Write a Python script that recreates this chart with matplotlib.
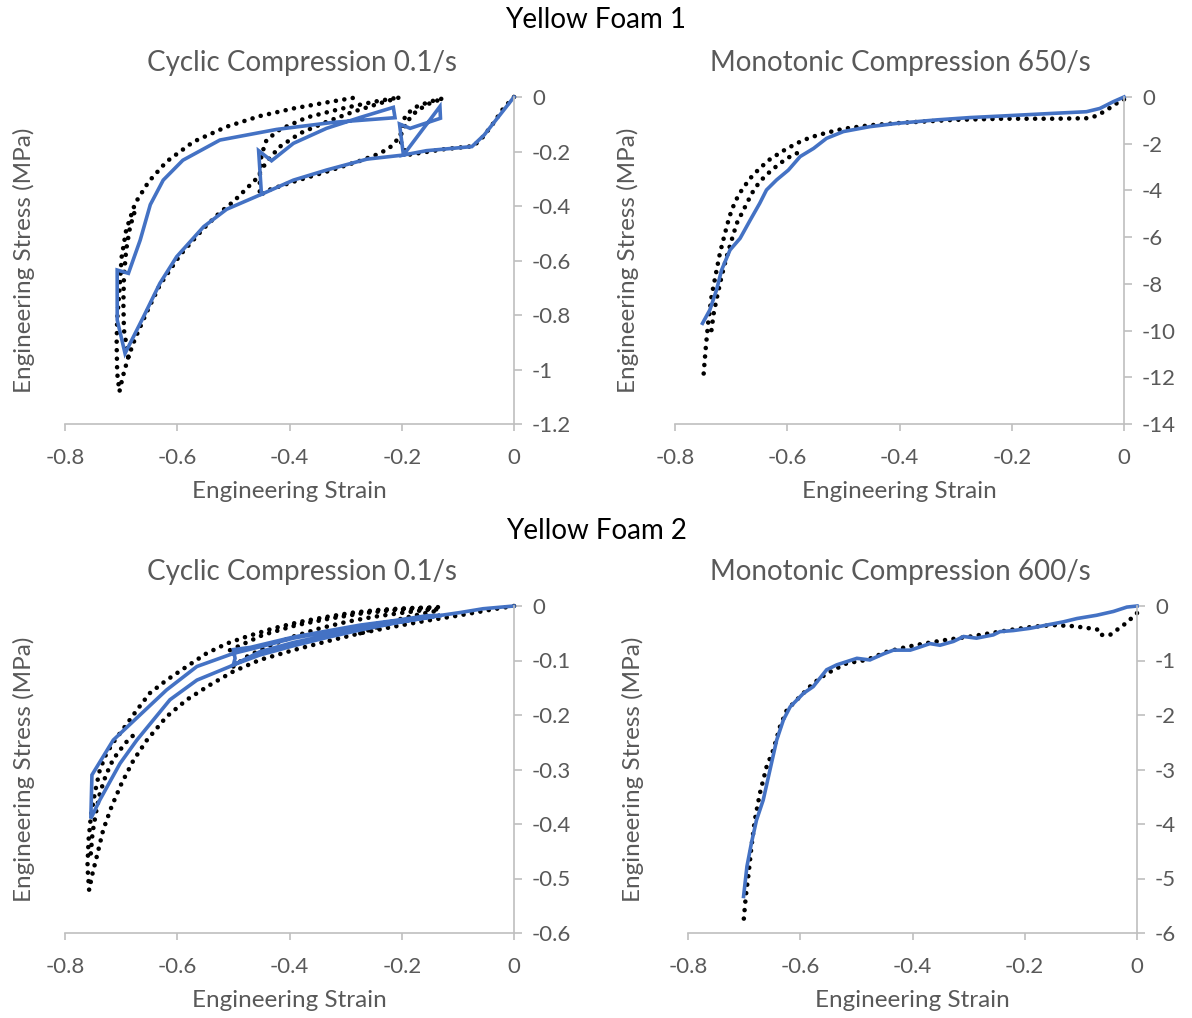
import numpy as np
import matplotlib
matplotlib.use('Agg')
import matplotlib.pyplot as plt
from matplotlib.ticker import FuncFormatter, MultipleLocator

plt.rcParams['font.family'] = ['Lato', 'DejaVu Sans']

nan = np.nan

# ---- Yellow Foam 1, cyclic 0.1/s ----
f1c_exp_strain = [0, -0.019, -0.037, -0.055, -0.072, -0.126, -0.191,
                  -0.203, -0.200, -0.191, -0.173, -0.150, -0.126,
                  -0.150, -0.173, -0.191, -0.203, -0.221, -0.239, -0.274, -0.334, -0.393, -0.441, -0.453,
                  -0.453, -0.450, -0.441, -0.417, -0.369, -0.310, -0.251, -0.203,
                  -0.239, -0.286, -0.334, -0.381, -0.417, -0.441, -0.458, -0.476, -0.500,
                  -0.524, -0.553, -0.595, -0.631, -0.654, -0.675, -0.687, -0.697, -0.703,
                  -0.707, -0.708, -0.707, -0.703, -0.699, -0.691, -0.675, -0.651, -0.619, -0.571,
                  -0.512, -0.453, -0.393, -0.334, -0.280,
                  nan, -0.687, -0.695, -0.696, -0.695, -0.691, -0.684, -0.675]
f1c_exp_stress = [0, -0.042, -0.097, -0.146, -0.180, -0.192, -0.213,
                  -0.158, -0.097, -0.062, -0.035, -0.017, -0.005,
                  -0.023, -0.050, -0.091, -0.146, -0.185, -0.207, -0.234, -0.274, -0.311, -0.344, -0.363,
                  -0.292, -0.213, -0.158, -0.119, -0.075, -0.044, -0.018, -0.001,
                  -0.023, -0.054, -0.091, -0.133, -0.182, -0.237, -0.298, -0.335, -0.384,
                  -0.424, -0.482, -0.580, -0.690, -0.788, -0.886, -0.953, -1.026, -1.081,
                  -1.014, -0.904, -0.818, -0.708, -0.586, -0.488, -0.390, -0.311, -0.237, -0.164,
                  -0.109, -0.070, -0.042, -0.020, -0.001,
                  nan, -0.953, -0.855, -0.757, -0.659, -0.561, -0.476, -0.415]
f1c_sim_strain = [0, -0.053, -0.075, -0.156, -0.197, -0.132, -0.131, -0.185, -0.204, -0.197,
                  -0.262, -0.334, -0.393, -0.450, -0.512, -0.553, -0.601, -0.631, -0.660, -0.693,
                  -0.707, -0.707, -0.687, -0.666, -0.648, -0.625, -0.590, -0.524, -0.423, -0.322,
                  -0.212, -0.215, -0.274, -0.334, -0.393, -0.432, -0.455, -0.450]
f1c_sim_stress = [0, -0.139, -0.182, -0.197, -0.213, -0.035, -0.078, -0.115, -0.099, -0.213,
                  -0.228, -0.268, -0.305, -0.357, -0.412, -0.476, -0.586, -0.684, -0.806, -0.941,
                  -0.818, -0.635, -0.647, -0.525, -0.395, -0.305, -0.232, -0.158, -0.119, -0.093,
                  -0.076, -0.038, -0.075, -0.115, -0.170, -0.234, -0.197, -0.357]

# ---- Yellow Foam 1, monotonic 650/s ----
f1m_exp_strain = [0, -0.013, -0.031, -0.049, -0.067, -0.126, -0.215, -0.304, -0.393, -0.453,
                  -0.500, -0.530, -0.559, -0.583, -0.607, -0.631, -0.649, -0.666, -0.681, -0.693,
                  -0.703, -0.711, -0.720, -0.727, -0.735, -0.741, -0.745, -0.748, -0.750,
                  nan, -0.735, -0.731, -0.725, -0.717, -0.708, -0.699, -0.690, -0.678, -0.663,
                  -0.649, -0.631, -0.613, -0.595, -0.571]
f1m_exp_stress = [-0.1, -0.27, -0.56, -0.81, -0.91, -0.93, -0.93, -0.98, -1.10, -1.21,
                  -1.36, -1.53, -1.73, -1.98, -2.30, -2.67, -3.05, -3.48, -3.98, -4.48,
                  -5.12, -5.84, -6.69, -7.55, -8.55, -9.69, -10.69, -11.55, -12.19,
                  nan, -9.98, -9.26, -8.55, -7.69, -6.84, -6.12, -5.41, -4.84, -4.12,
                  -3.62, -3.20, -2.84, -2.55, -2.27]
f1m_sim_strain = [0, -0.019, -0.043, -0.067, -0.126, -0.215, -0.274, -0.334, -0.405, -0.453,
                  -0.500, -0.530, -0.553, -0.577, -0.598, -0.619, -0.637, -0.649, -0.666, -0.684,
                  -0.702, -0.717, -0.726, -0.738, -0.751]
f1m_sim_stress = [0, -0.20, -0.49, -0.63, -0.70, -0.81, -0.88, -0.98, -1.13, -1.27,
                  -1.48, -1.77, -2.20, -2.55, -3.13, -3.55, -3.98, -4.55, -5.27, -6.05,
                  -6.55, -7.41, -8.26, -9.12, -9.69]

# ---- Yellow Foam 2, cyclic 0.1/s ----
f2c_exp_strain = [0, -0.037, -0.096, -0.156, -0.215, -0.274, -0.334, -0.393, -0.453, -0.500,
                  -0.542, -0.583, -0.619, -0.654, -0.678, -0.699, -0.717, -0.732, -0.742, -0.751,
                  -0.757, -0.760, -0.758, -0.754, -0.747, -0.738, -0.726, -0.711, -0.693, -0.672,
                  -0.649, -0.619, -0.583, -0.548, -0.512, -0.476, -0.429, -0.381, -0.334, -0.286,
                  -0.239, -0.191, -0.132,
                  nan, -0.500, -0.476, -0.441, -0.393, -0.346, -0.298, -0.251, -0.203, -0.156, -0.132,
                  nan, -0.506, -0.447, -0.387, -0.328, -0.268, -0.209, -0.150,
                  nan, -0.274, -0.239, -0.203, -0.167, -0.138,
                  nan, -0.754, -0.751, -0.745, -0.738, -0.727, -0.714, -0.693, -0.669]
f2c_exp_stress = [0, -0.006, -0.017, -0.027, -0.038, -0.050, -0.065, -0.081, -0.099, -0.120,
                  -0.145, -0.172, -0.203, -0.246, -0.283, -0.325, -0.368, -0.411, -0.454, -0.491,
                  -0.521, -0.478, -0.429, -0.387, -0.344, -0.301, -0.270, -0.246, -0.221, -0.191,
                  -0.160, -0.136, -0.111, -0.087, -0.069, -0.056, -0.041, -0.029, -0.020, -0.012,
                  -0.007, -0.004, -0.002,
                  nan, -0.111, -0.093, -0.075, -0.056, -0.041, -0.029, -0.020, -0.013, -0.007, -0.006,
                  nan, -0.081, -0.053, -0.035, -0.023, -0.013, -0.007, -0.004,
                  nan, -0.050, -0.037, -0.024, -0.015, -0.009,
                  nan, -0.454, -0.417, -0.380, -0.344, -0.310, -0.281, -0.252, -0.228]
f2c_sim_strain = [0, -0.055, -0.096, -0.156, -0.215, -0.274, -0.334, -0.393, -0.453, -0.500,
                  -0.497, -0.500, -0.470, -0.393, -0.334, -0.274, -0.215, -0.156, -0.132,
                  -0.156, -0.215, -0.274, -0.334, -0.393, -0.453, -0.470, -0.506, -0.565, -0.613,
                  -0.672, -0.702, -0.738, -0.754, -0.752, -0.714, -0.619, -0.565, -0.500, -0.453,
                  -0.393, -0.334, -0.274, -0.215, -0.132]
f2c_sim_stress = [0, -0.005, -0.012, -0.021, -0.032, -0.044, -0.058, -0.073, -0.090, -0.108,
                  -0.096, -0.080, -0.076, -0.057, -0.046, -0.035, -0.027, -0.018, -0.017,
                  -0.022, -0.031, -0.042, -0.054, -0.067, -0.084, -0.093, -0.111, -0.136, -0.172,
                  -0.246, -0.289, -0.356, -0.390, -0.310, -0.246, -0.154, -0.111, -0.087, -0.075,
                  -0.059, -0.048, -0.037, -0.028, -0.018]

# ---- Yellow Foam 2, monotonic 600/s ----
f2m_exp_strain = [0, -0.007, -0.024, -0.036, -0.048, -0.063, -0.066, -0.084, -0.113, -0.149,
                  -0.185, -0.220, -0.262, -0.297, -0.339, -0.380, -0.410, -0.446, -0.482, -0.517,
                  -0.553, -0.577, -0.606, -0.624, -0.636, -0.648, -0.660, -0.672, -0.681, -0.687,
                  -0.692, -0.697, -0.701]
f2m_exp_stress = [-0.13, -0.20, -0.35, -0.44, -0.53, -0.53, -0.44, -0.41, -0.37, -0.35,
                  -0.38, -0.43, -0.50, -0.56, -0.62, -0.69, -0.75, -0.84, -0.99, -1.05,
                  -1.24, -1.42, -1.72, -1.91, -2.21, -2.64, -2.95, -3.44, -3.93, -4.42,
                  -4.91, -5.33, -5.79]
f2m_sim_strain = [0, -0.018, -0.042, -0.072, -0.107, -0.131, -0.161, -0.191, -0.220, -0.244,
                  -0.256, -0.286, -0.309, -0.327, -0.351, -0.369, -0.386, -0.404, -0.434, -0.452,
                  -0.476, -0.499, -0.517, -0.535, -0.553, -0.577, -0.594, -0.618, -0.630, -0.642,
                  -0.654, -0.666, -0.678, -0.687, -0.695, -0.701]
f2m_sim_stress = [0, -0.02, -0.10, -0.17, -0.23, -0.29, -0.35, -0.41, -0.45, -0.47,
                  -0.53, -0.59, -0.56, -0.65, -0.72, -0.69, -0.75, -0.81, -0.81, -0.88,
                  -0.99, -0.96, -1.02, -1.08, -1.17, -1.48, -1.60, -1.85, -2.09, -2.46,
                  -3.01, -3.56, -3.93, -4.35, -4.78, -5.33]

panels = [
    # exp x/y, sim x/y, y min, y step, title, plot area (px), title x, ylabel x
    (f1c_exp_strain, f1c_exp_stress, f1c_sim_strain, f1c_sim_stress, -1.2, 0.2,
     'Cyclic Compression 0.1/s', [65, 97, 514, 424], 0.528, -0.091),
    (f1m_exp_strain, f1m_exp_stress, f1m_sim_strain, f1m_sim_stress, -14, 2,
     'Monotonic Compression 650/s', [675, 97, 1124, 424], 0.501, -0.105),
    (f2c_exp_strain, f2c_exp_stress, f2c_sim_strain, f2c_sim_stress, -0.6, 0.1,
     'Cyclic Compression 0.1/s', [65, 606, 514, 933], 0.528, -0.091),
    (f2m_exp_strain, f2m_exp_stress, f2m_sim_strain, f2m_sim_stress, -6, 1,
     'Monotonic Compression 600/s', [688, 606, 1137, 933], 0.472, -0.122),
]

W, H = 1192, 1018
fig = plt.figure(figsize=(W / 100, H / 100), dpi=100)

gray = '#595959'
axis_col = '#BFBFBF'
blue = '#4472C4'
fmt = FuncFormatter(lambda v, p: f'{round(v, 6) + 0:g}')

for (ex, ey, sx, sy, ymin, ystep, title, rect, tx, ylx) in panels:
    x0, y0, x1, y1 = rect
    ax = fig.add_axes([x0 / W, 1 - y1 / H, (x1 - x0) / W, (y1 - y0) / H])
    ax.plot(ex, ey, color='black', lw=3.3, linestyle=(0, (0.01, 1.85)),
            dash_capstyle='round', clip_on=False)
    ax.plot(sx, sy, color=blue, lw=2.6, solid_joinstyle='miter', clip_on=False)
    ax.set_xlim(-0.8, 0)
    ax.set_ylim(ymin, 0)
    ax.xaxis.set_major_locator(MultipleLocator(0.2))
    ax.yaxis.set_major_locator(MultipleLocator(ystep))
    ax.xaxis.set_major_formatter(fmt)
    ax.yaxis.set_major_formatter(fmt)
    for s in ['top', 'left']:
        ax.spines[s].set_visible(False)
    for s in ['right', 'bottom']:
        ax.spines[s].set_color(axis_col)
        ax.spines[s].set_linewidth(1.2)
    ax.yaxis.tick_right()
    ax.tick_params(axis='y', direction='out', length=6, width=1.2, color=axis_col,
                   labelsize=16, labelcolor=gray, pad=7)
    ax.tick_params(axis='x', direction='out', length=5, width=1.2, color=axis_col,
                   labelsize=16, labelcolor=gray, pad=12)
    ax.set_xlabel('Engineering Strain', fontsize=17.5, color=gray)
    ax.xaxis.label.set_verticalalignment('center')
    ax.xaxis.set_label_coords(0.5, -0.205)
    ax.set_ylabel('Engineering Stress (MPa)', fontsize=17.5, color=gray)
    ax.yaxis.set_label_position('left')
    ax.yaxis.label.set_verticalalignment('center')
    ax.yaxis.set_label_coords(ylx, 0.5)
    ax.text(tx, 1.104, title, transform=ax.transAxes, ha='center', va='center',
            fontsize=20, color=gray)

fig.text(0.5, 1 - 20 / H, 'Yellow Foam 1', ha='center', va='center', fontsize=20, color='black')
fig.text(0.5, 1 - 531 / H, 'Yellow Foam 2', ha='center', va='center', fontsize=20, color='black')

fig.savefig('out.png', dpi=100)
